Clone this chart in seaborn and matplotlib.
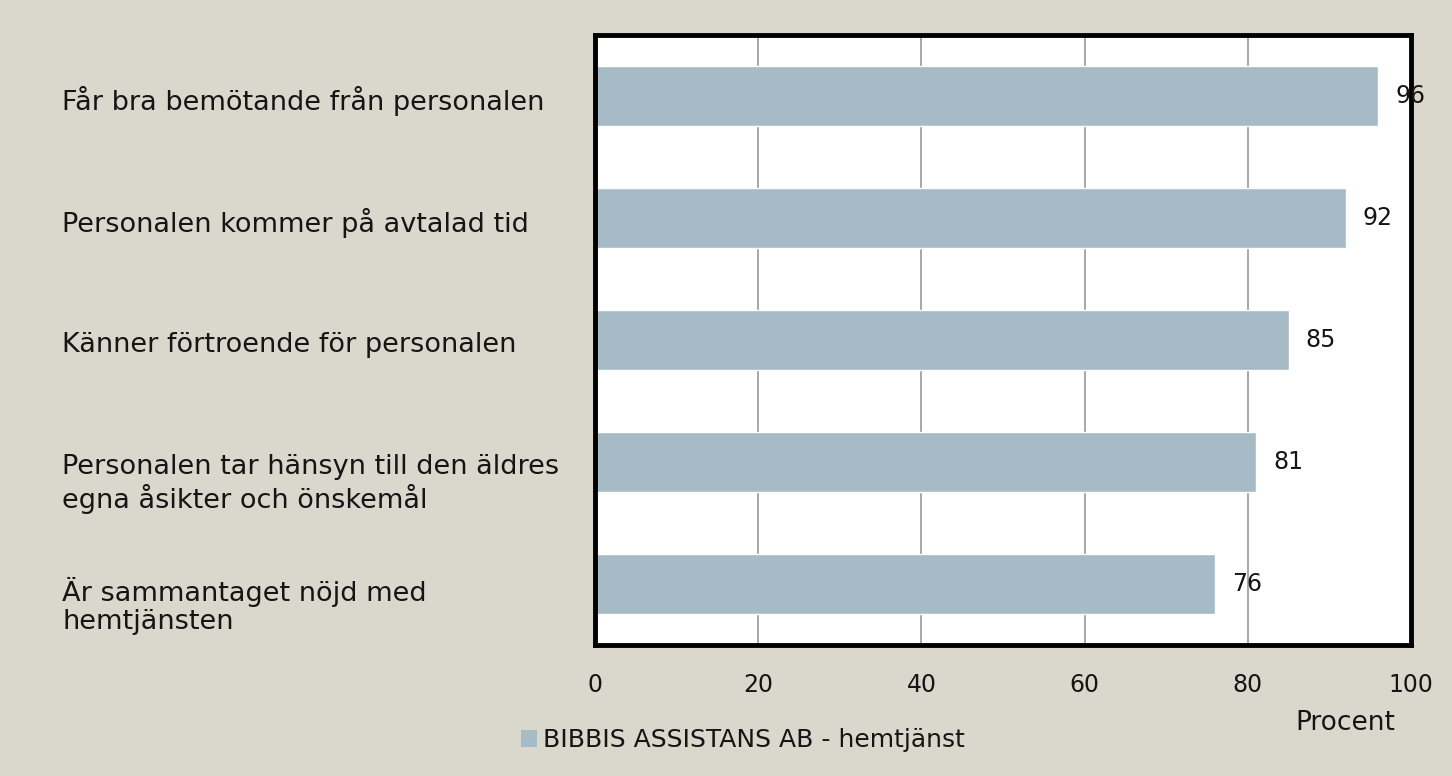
import matplotlib
matplotlib.use("Agg")
import matplotlib.pyplot as plt
import seaborn as sns
import pandas as pd
from matplotlib.patches import Patch

categories = [
    "Får bra bemötande från personalen",
    "Personalen kommer på avtalad tid",
    "Känner förtroende för personalen",
    "Personalen tar hänsyn till den äldres\negna åsikter och önskemål",
    "Är sammantaget nöjd med\nhemtjänsten",
]
values = [96, 92, 85, 81, 76]
series_name = "BIBBIS ASSISTANS AB - hemtjänst"
xticks = [0, 20, 40, 60, 80, 100]
xlabel = "Procent"

bg = "#DAD8CC"
bar_color = "#A7BBC6"
txt = "#151515"

sns.set_theme(style="white")
plt.rcParams['font.family'] = ['DejaVu Sans']

df = pd.DataFrame({"cat": categories, "val": values})

W, H = 1452, 776
fig = plt.figure(figsize=(W / 100, H / 100), dpi=100, facecolor=bg)
ax = fig.add_axes([595 / W, 1 - 645 / H, (1411 - 595) / W, (645 - 35) / H])
ax.set_facecolor("white")

sns.barplot(data=df, x="val", y="cat", color=bar_color, width=0.49,
            saturation=1, ax=ax, zorder=3)

ax.set_xlim(0, 100)
ax.set_xticks(xticks)
ax.set_xticklabels([str(t) for t in xticks], fontsize=17, color=txt)
ax.tick_params(axis="x", length=0, pad=20)
ax.tick_params(axis="y", length=0)
ax.set_yticklabels([])
ax.set_ylabel("")
ax.set_xlabel("")
ax.xaxis.grid(True, color="#A0A0A0", linewidth=1.3, zorder=0)
ax.yaxis.grid(False)
for s in ax.spines.values():
    s.set_visible(True)
    s.set_color("black")
    s.set_linewidth(3.5)
    s.set_zorder(5)

# category labels, left aligned; first line sits at the bar centre
px_per_unit = (645 - 35) / 5.0
for i, c in enumerate(categories):
    nlines = c.count("\n") + 1
    off = (5 + (nlines - 1) * 17) / px_per_unit
    ax.text(-0.653, i + off, c, transform=ax.get_yaxis_transform(), ha="left",
            va="center", fontsize=19.5, color=txt, linespacing=1.13)

# value labels
for i, v in enumerate(values):
    ax.text(v + 2.1, i, str(v), ha="left", va="center", fontsize=17,
            color=txt, zorder=6)

fig.text(1345 / W, 1 - 723 / H, xlabel, ha="center", va="center",
         fontsize=19, color=txt)

handles = [Patch(facecolor=bar_color, edgecolor="none", label=series_name)]
fig.legend(handles=handles, loc="center", bbox_to_anchor=(743 / W, 1 - 740 / H),
           frameon=False, fontsize=18, handlelength=0.65, handleheight=0.65,
           handletextpad=0.25, labelcolor=txt)

fig.savefig("out.png", dpi=100, facecolor=bg)
